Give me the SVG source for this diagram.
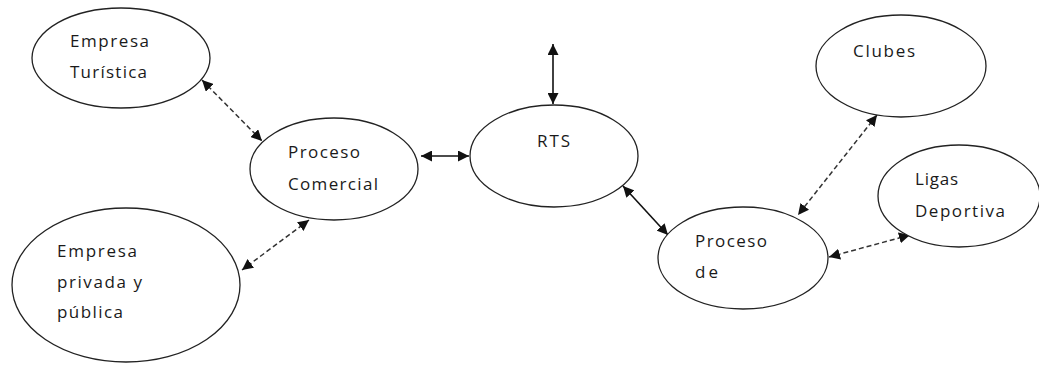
<svg xmlns="http://www.w3.org/2000/svg" width="1039" height="365" viewBox="0 0 1039 365">
<style>
.node ellipse{fill:#fff;stroke:#222;stroke-width:1.3}
.node text{font-family:"Open Sans","Liberation Sans",sans-serif;font-size:17px;fill:#1a1a1a}
.solid{stroke:#111;stroke-width:1.6;fill:none}
.dash{stroke:#333;stroke-width:1.5;stroke-dasharray:5 3;fill:none}
</style>
<defs>
<marker id="ah" viewBox="0 0 10 10" refX="10" refY="5" markerWidth="11" markerHeight="11" markerUnits="userSpaceOnUse" orient="auto-start-reverse">
<path d="M0,0 L10,5 L0,10 z" fill="#111"/>
</marker>
</defs>
<rect width="1039" height="365" fill="#fff"/>
<g id="connectors">
<line class="solid" x1="553" y1="44" x2="553" y2="104" marker-start="url(#ah)" marker-end="url(#ah)"/>
<line class="solid" x1="421" y1="156" x2="469" y2="156" marker-start="url(#ah)" marker-end="url(#ah)"/>
<line class="solid" x1="623" y1="186" x2="668" y2="235" marker-start="url(#ah)" marker-end="url(#ah)"/>
<line class="dash" x1="202" y1="80" x2="262" y2="141" marker-start="url(#ah)" marker-end="url(#ah)"/>
<line class="dash" x1="309" y1="220" x2="242" y2="270" marker-start="url(#ah)" marker-end="url(#ah)"/>
<line class="dash" x1="877" y1="115" x2="798" y2="215" marker-start="url(#ah)" marker-end="url(#ah)"/>
<line class="dash" x1="910" y1="235" x2="829" y2="257" marker-start="url(#ah)" marker-end="url(#ah)"/>
</g>
<g id="empresa-turistica" class="node">
<ellipse cx="121" cy="58" rx="89" ry="50"/>
<text x="70" y="47" textLength="79" lengthAdjust="spacing">Empresa</text>
<text x="70" y="78" textLength="77" lengthAdjust="spacing">Turística</text>
</g>
<g id="proceso-comercial" class="node">
<ellipse cx="334" cy="169" rx="84" ry="51"/>
<text x="288" y="158" textLength="72" lengthAdjust="spacing">Proceso</text>
<text x="288" y="190" textLength="90" lengthAdjust="spacing">Comercial</text>
</g>
<g id="empresa-privada" class="node">
<ellipse cx="126" cy="285" rx="114" ry="77"/>
<text x="57" y="257" textLength="80" lengthAdjust="spacing">Empresa</text>
<text x="57" y="288" textLength="85" lengthAdjust="spacing">privada y</text>
<text x="57" y="318" textLength="66" lengthAdjust="spacing">pública</text>
</g>
<g id="rts" class="node">
<ellipse cx="554" cy="156" rx="84" ry="51"/>
<text x="537" y="147" textLength="33" lengthAdjust="spacing">RTS</text>
</g>
<g id="clubes" class="node">
<ellipse cx="901" cy="66" rx="85" ry="51"/>
<text x="853" y="57" textLength="62" lengthAdjust="spacing">Clubes</text>
</g>
<g id="ligas-deportiva" class="node">
<ellipse cx="959" cy="196" rx="81" ry="51"/>
<text x="915" y="185" textLength="43" lengthAdjust="spacing">Ligas</text>
<text x="915" y="217" textLength="90" lengthAdjust="spacing">Deportiva</text>
</g>
<g id="proceso-de" class="node">
<ellipse cx="743" cy="258" rx="85" ry="51"/>
<text x="695" y="247" textLength="72" lengthAdjust="spacing">Proceso</text>
<text x="695" y="278" textLength="23" lengthAdjust="spacing">de</text>
</g>
</svg>
